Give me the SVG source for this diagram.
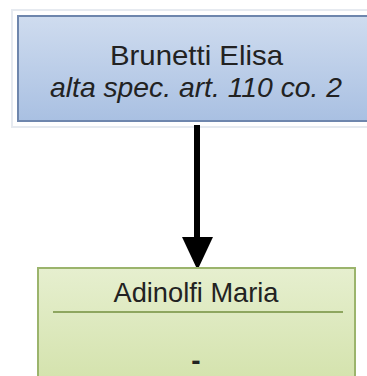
<svg xmlns="http://www.w3.org/2000/svg" width="367" height="376" viewBox="0 0 367 376">
  <defs>
    <linearGradient id="gBlue" x1="0" y1="0" x2="0" y2="1">
      <stop offset="0" stop-color="#cfdcef"/>
      <stop offset="1" stop-color="#a9c0e2"/>
    </linearGradient>
    <linearGradient id="gGreen" x1="0" y1="0" x2="0" y2="1">
      <stop offset="0" stop-color="#e6efcf"/>
      <stop offset="1" stop-color="#d3e2ab"/>
    </linearGradient>
    <marker id="arrow" markerUnits="userSpaceOnUse" markerWidth="32" markerHeight="34" refX="15" refY="32" orient="auto-start-reverse" viewBox="0 0 30 34">
      <path d="M0,0 L30,0 L15,32 Z" fill="#000"/>
    </marker>
  </defs>
  <style>
    text { font-family: "Liberation Sans", Arial, sans-serif; fill: #222; text-anchor: middle; }
    .t { font-size: 28px; }
    .i { font-size: 28px; font-style: italic; }
  </style>
  <rect width="367" height="376" fill="#fff"/>
  <g id="node-brunetti">
    <rect x="12" y="10" width="370" height="117" fill="none" stroke="#e6eaf0" stroke-width="2"/>
    <rect x="18" y="16" width="358" height="105" fill="url(#gBlue)" stroke="#6e86ad" stroke-width="2"/>
    <text class="t" x="196.5" y="65" textLength="173" lengthAdjust="spacingAndGlyphs">Brunetti Elisa</text>
    <text class="i" x="196" y="97" textLength="292" lengthAdjust="spacingAndGlyphs">alta spec. art. 110 co. 2</text>
  </g>
  <g id="connectors">
    <line x1="197" y1="125" x2="197" y2="238" stroke="#000" stroke-width="6"/>
    <path d="M182,237 L213,237 L197.5,270 Z" fill="#000"/>
  </g>
  <g id="node-adinolfi">
    <rect x="38" y="268" width="317" height="120" fill="url(#gGreen)" stroke="#9bb46c" stroke-width="2"/>
    <line x1="53" y1="312" x2="343" y2="312" stroke="#8ea65f" stroke-width="2"/>
    <text class="t" x="196" y="302" textLength="165" lengthAdjust="spacingAndGlyphs">Adinolfi Maria</text>
    <text class="t" x="196" y="370" font-weight="bold">-</text>
  </g>
</svg>
